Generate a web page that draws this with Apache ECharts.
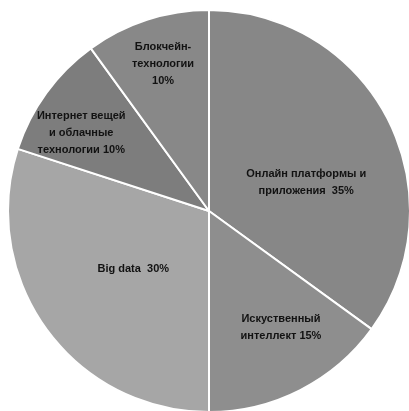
<!DOCTYPE html>
<html>
<head>
<meta charset="utf-8">
<script src="https://cdn.jsdelivr.net/npm/echarts@6/dist/echarts.min.js"></script>
<style>
html,body{margin:0;padding:0;background:#fff;}
#chart{width:409px;height:411px;}
</style>
</head>
<body>
<div id="chart"></div>
<script>
const categories = ['Онлайн платформы и\nприложения', 'Искуственный\nинтеллект', 'Big data', 'Интернет вещей\nи облачные\nтехнологии', 'Блокчейн-\nтехнологии'];
const values = [35, 15, 30, 10, 10];
const separators = ['  ', ' ', '  ', ' ', '\n'];
const colors = ['#878787', '#8e8e8e', '#a6a6a6', '#7d7d7d', '#888888'];
const labelOffsets = [[5, 18], [25, 24], [8, -3], [-44, -17], [-14, -49]];

const chart = echarts.init(document.getElementById('chart'));
chart.setOption({
  animation: false,
  series: [{
    type: 'pie',
    center: [209, 211],
    radius: 201,
    startAngle: 90,
    clockwise: true,
    silent: true,
    itemStyle: { borderColor: '#ffffff', borderWidth: 2 },
    label: {
      show: true,
      position: 'inside',
      color: '#121212',
      fontFamily: 'Liberation Sans',
      fontWeight: 'bold',
      fontSize: 11,
      lineHeight: 17,
      align: 'center'
    },
    labelLine: { show: false },
    data: categories.map((c, i) => ({
      name: c,
      value: values[i],
      itemStyle: { color: colors[i] },
      label: {
        offset: labelOffsets[i],
        formatter: c + separators[i] + values[i] + '%'
      }
    }))
  }]
});
</script>
</body>
</html>
